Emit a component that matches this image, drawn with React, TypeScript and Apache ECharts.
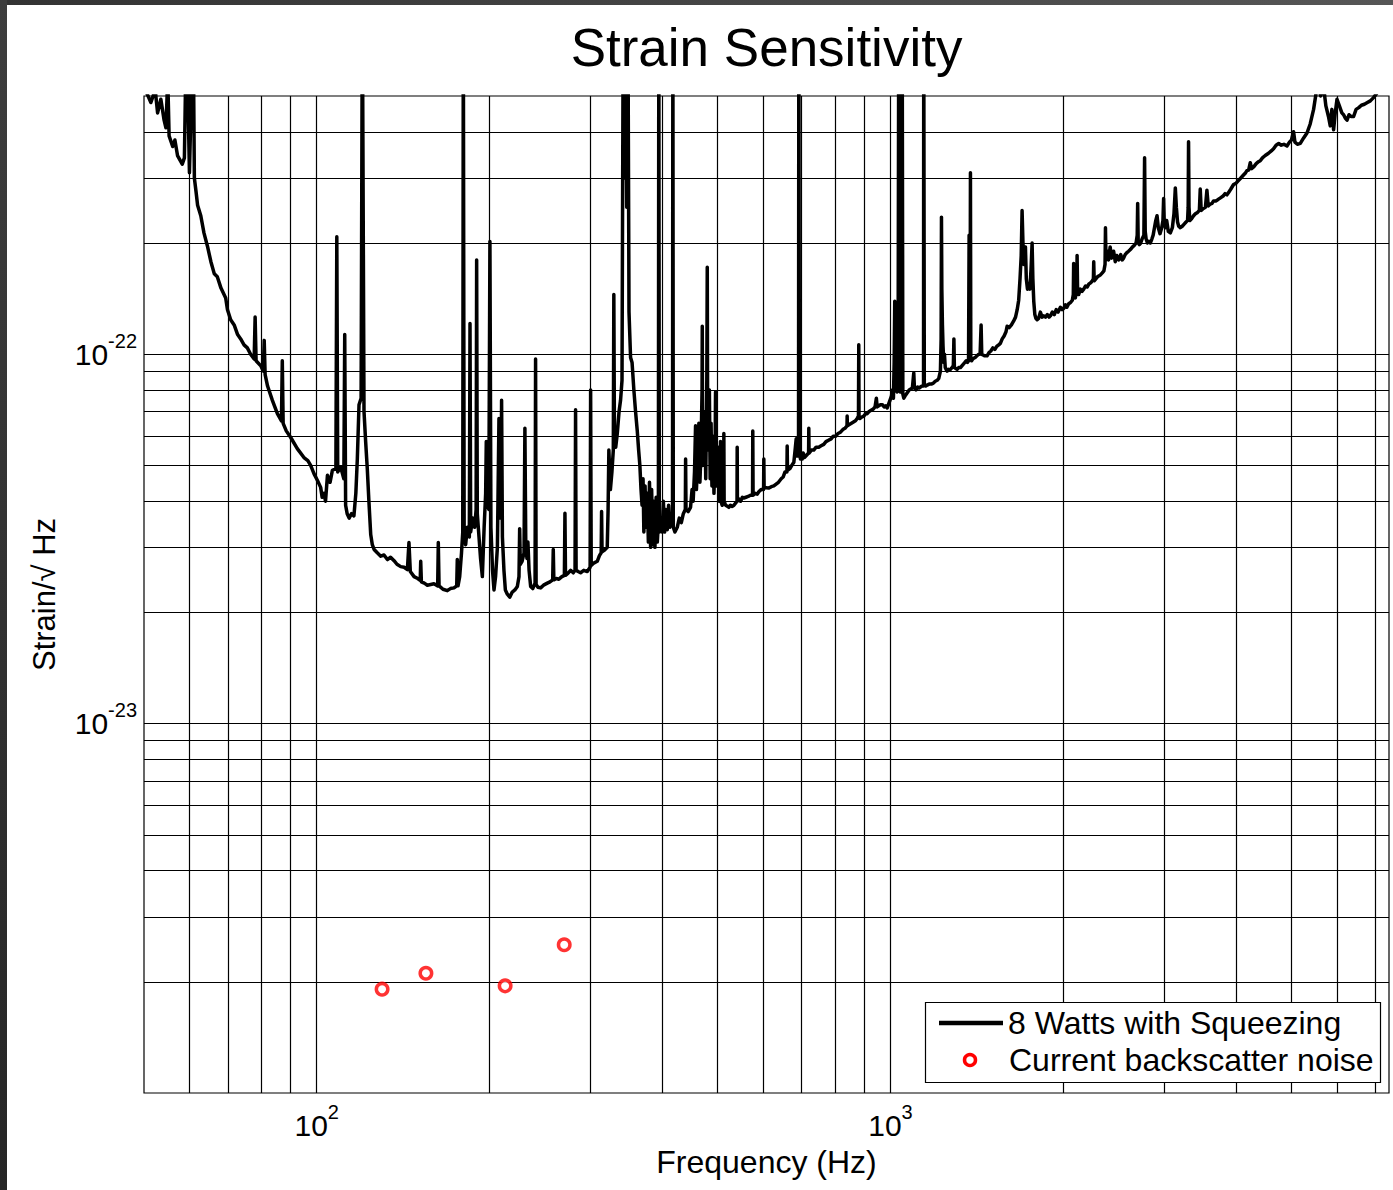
import React, { useEffect, useRef } from 'react';
import * as echarts from 'echarts';

// ---------- data (frequency Hz, strain / sqrt(Hz)) ----------
const strainCurve: [number, number][] = [
  [50.0, 5.3e-22], [51.4, 4.8e-22], [52.3, 5.2e-22], [52.8, 4.5e-22], [53.5, 4.9e-22], [54.2, 4.3e-22],
  [54.6, 4.1e-22], [55.0, 5.6e-22], [55.3, 3.9e-22], [56.1, 3.65e-22], [56.6, 3.8e-22], [57.2, 3.45e-22],
  [58.3, 3.27e-22], [58.8, 3.4e-22], [59.3, 8e-22], [60.0, 3.1e-22], [60.9, 8e-22], [61.2, 3.0e-22],
  [61.6, 2.76e-22], [62.0, 2.53e-22], [62.8, 2.37e-22], [63.6, 2.13e-22], [64.5, 1.96e-22], [65.4, 1.78e-22],
  [66.3, 1.65e-22], [67.1, 1.62e-22], [68.1, 1.51e-22], [69.4, 1.42e-22], [69.9, 1.32e-22], [70.8, 1.24e-22],
  [71.8, 1.2e-22], [72.8, 1.13e-22], [73.7, 1.1e-22], [74.7, 1.06e-22], [75.7, 1.04e-22], [76.7, 1.0e-22],
  [77.8, 9.7e-23], [78.1, 1.26e-22], [78.4, 9.6e-23], [79.9, 9.3e-23], [80.7, 9.0e-23], [81.0, 1.09e-22],
  [81.3, 8.8e-23], [82.1, 8.2e-23], [83.7, 7.5e-23], [85.4, 6.9e-23], [86.8, 6.6e-23], [87.1, 9.6e-23],
  [87.4, 6.5e-23], [88.5, 6.2e-23], [90.1, 5.95e-23], [92.5, 5.55e-23], [95.0, 5.25e-23], [96.5, 5.15e-23],
  [97.6, 5.0e-23], [98.9, 4.75e-23], [100.3, 4.55e-23], [101.6, 4.36e-23], [102.2, 4.1e-23], [103.0, 4.2e-23],
  [103.6, 4.0e-23], [104.4, 4.7e-23], [105.5, 4.5e-23], [106.5, 4.85e-23], [108.0, 4.9e-23], [108.4, 2.08e-22],
  [108.8, 4.8e-23], [110.1, 4.95e-23], [111.5, 4.6e-23], [111.9, 1.13e-22], [112.3, 3.9e-23], [113.0, 3.7e-23],
  [113.9, 3.6e-23], [115.0, 3.7e-23], [116.1, 3.65e-23], [117.0, 4.2e-23], [117.7, 5.2e-23], [118.5, 7.3e-23],
  [119.5, 7.6e-23], [120.1, 9e-22], [120.9, 7.0e-23], [121.7, 5.8e-23], [122.5, 4.9e-23], [123.3, 4.0e-23],
  [124.2, 3.25e-23], [125.0, 3.05e-23], [125.9, 2.96e-23], [127.5, 2.9e-23], [129.3, 2.84e-23], [131.0, 2.86e-23],
  [132.8, 2.78e-23], [134.5, 2.82e-23], [136.4, 2.76e-23], [138.0, 2.7e-23], [140.1, 2.66e-23], [142.0, 2.65e-23],
  [143.9, 2.61e-23], [144.8, 3.09e-23], [145.6, 2.58e-23], [147.8, 2.5e-23], [150.0, 2.47e-23], [151.5, 2.44e-23],
  [151.8, 2.75e-23], [152.2, 2.42e-23], [154.0, 2.4e-23], [155.9, 2.37e-23], [158.0, 2.38e-23], [160.1, 2.39e-23],
  [162.5, 2.36e-23], [162.9, 3.09e-23], [163.4, 2.36e-23], [166.0, 2.31e-23], [168.9, 2.29e-23], [171.0, 2.32e-23],
  [173.5, 2.33e-23], [175.4, 2.36e-23], [175.8, 2.78e-23], [176.3, 2.36e-23], [177.5, 2.5e-23], [178.8, 2.9e-23],
  [179.7, 3.3e-23], [180.1, 9e-22], [180.7, 3.3e-23], [181.8, 3.05e-23], [183.0, 3.4e-23], [184.5, 3.2e-23],
  [185.0, 1.21e-22], [185.5, 3.3e-23], [187.0, 3.6e-23], [188.5, 3.4e-23], [189.6, 3.8e-23], [190.0, 1.8e-22],
  [190.5, 3.7e-23], [191.8, 3.2e-23], [193.0, 2.8e-23], [194.4, 2.5e-23], [195.8, 3.4e-23], [197.0, 4.2e-23],
  [197.5, 5.8e-23], [198.2, 4.0e-23], [199.5, 3.8e-23], [200.4, 2.02e-22], [201.2, 3.4e-23], [202.5, 2.6e-23],
  [203.7, 2.3e-23], [205.0, 2.5e-23], [206.5, 3.0e-23], [207.8, 6.7e-23], [208.6, 3.6e-23], [209.5, 4.0e-23],
  [210.0, 7.5e-23], [210.7, 3.2e-23], [212.0, 2.6e-23], [213.2, 2.3e-23], [214.9, 2.24e-23], [217.0, 2.2e-23],
  [219.2, 2.27e-23], [221.5, 2.3e-23], [223.7, 2.35e-23], [225.2, 2.5e-23], [225.8, 3.37e-23], [226.4, 2.7e-23],
  [228.0, 2.75e-23], [229.8, 2.9e-23], [230.6, 6.3e-23], [231.4, 3.1e-23], [232.5, 2.8e-23], [233.4, 3.1e-23],
  [234.5, 2.6e-23], [236.0, 2.35e-23], [238.0, 2.32e-23], [240.2, 2.4e-23], [240.7, 9.7e-23], [241.2, 2.38e-23],
  [243.0, 2.34e-23], [245.6, 2.33e-23], [248.5, 2.37e-23], [252.3, 2.4e-23], [255.0, 2.42e-23], [257.8, 2.45e-23],
  [258.4, 2.96e-23], [259.0, 2.45e-23], [261.5, 2.47e-23], [264.3, 2.46e-23], [267.5, 2.5e-23], [270.2, 2.52e-23],
  [270.8, 3.71e-23], [271.4, 2.52e-23], [274.0, 2.55e-23], [277.0, 2.6e-23], [280.0, 2.56e-23], [282.0, 2.6e-23],
  [282.6, 7.07e-23], [283.2, 2.6e-23], [285.5, 2.58e-23], [288.3, 2.56e-23], [292.0, 2.6e-23], [296.2, 2.58e-23],
  [299.6, 2.65e-23], [300.2, 8.0e-23], [300.9, 2.68e-23], [304.0, 2.72e-23], [308.3, 2.75e-23], [311.0, 2.85e-23],
  [313.2, 2.9e-23], [313.7, 3.75e-23], [314.3, 2.92e-23], [317.5, 2.95e-23], [320.9, 3.0e-23], [322.0, 3.8e-23],
  [323.0, 5.5e-23], [325.0, 4.3e-23], [327.0, 4.8e-23], [328.8, 5.5e-23], [329.5, 1.45e-22], [330.3, 6.0e-23],
  [332.0, 5.6e-23], [334.1, 6.1e-23], [336.5, 7.0e-23], [338.5, 7.5e-23], [340.5, 8.5e-23], [342.2, 9e-22],
  [343.8, 3.0e-22], [345.4, 9e-22], [347.0, 2.5e-22], [348.6, 9e-22], [350.2, 1.3e-22], [352.4, 9.8e-23],
  [354.5, 9.5e-23], [357.1, 8.0e-23], [359.5, 7.0e-23], [362.0, 6.2e-23], [364.0, 5.5e-23], [365.8, 5.0e-23],
  [367.5, 4.3e-23], [369.0, 3.9e-23], [370.5, 4.6e-23], [371.7, 3.3e-23], [373.5, 4.4e-23], [375.0, 3.4e-23],
  [376.8, 4.2e-23], [378.5, 3.1e-23], [380.2, 4.5e-23], [381.9, 3.0e-23], [383.5, 4.3e-23], [385.2, 3.05e-23],
  [386.9, 4.0e-23], [388.6, 3.0e-23], [390.5, 4.1e-23], [392.3, 3.1e-23], [394.0, 3.5e-23], [394.7, 9e-22],
  [395.5, 3.3e-23], [397.5, 3.6e-23], [400.2, 3.3e-23], [402.0, 4.0e-23], [404.0, 3.3e-23], [406.0, 3.8e-23],
  [408.3, 3.35e-23], [410.5, 3.9e-23], [412.5, 3.4e-23], [415.0, 3.7e-23], [417.0, 3.5e-23], [417.6, 9e-22],
  [418.3, 3.4e-23], [421.0, 3.3e-23], [425.0, 3.4e-23], [428.5, 3.6e-23], [432.0, 3.5e-23], [435.5, 3.7e-23],
  [439.0, 3.8e-23], [439.5, 5.2e-23], [440.2, 3.8e-23], [444.0, 3.75e-23], [448.3, 3.85e-23], [451.0, 4.3e-23],
  [453.0, 4.0e-23], [455.5, 4.8e-23], [457.4, 6.4e-23], [459.0, 4.3e-23], [461.5, 5.2e-23], [463.5, 6.5e-23],
  [465.5, 4.5e-23], [467.5, 5.5e-23], [469.5, 8.0e-23], [469.9, 1.19e-22], [470.6, 5.0e-23], [472.5, 6.0e-23],
  [474.8, 7.0e-23], [476.5, 4.6e-23], [478.5, 8.5e-23], [479.4, 1.72e-22], [480.3, 5.5e-23], [482.0, 6.5e-23],
  [483.5, 8.0e-23], [485.0, 4.6e-23], [486.8, 6.5e-23], [488.5, 4.4e-23], [490.5, 6.0e-23], [492.5, 4.2e-23],
  [494.8, 5.5e-23], [495.6, 7.9e-23], [496.5, 4.4e-23], [498.5, 5.0e-23], [500.5, 5.6e-23], [502.5, 4.0e-23],
  [505.0, 4.5e-23], [505.6, 5.8e-23], [506.5, 4.0e-23], [509.0, 3.9e-23], [512.0, 4.3e-23], [512.4, 6.1e-23],
  [513.0, 4.0e-23], [516.0, 3.9e-23], [519.4, 3.88e-23], [523.0, 3.85e-23], [526.0, 3.9e-23], [530.0, 3.87e-23],
  [533.3, 3.9e-23], [537.0, 3.95e-23], [540.2, 4.0e-23], [540.6, 5.6e-23], [541.1, 4.0e-23], [545.0, 4.05e-23],
  [548.0, 4.0e-23], [552.0, 4.1e-23], [555.1, 4.08e-23], [560.0, 4.1e-23], [565.0, 4.12e-23], [570.0, 4.15e-23],
  [575.0, 4.15e-23], [575.5, 6.2e-23], [576.2, 4.15e-23], [581.0, 4.2e-23], [585.7, 4.18e-23], [590.0, 4.25e-23],
  [595.0, 4.3e-23], [601.0, 4.3e-23], [601.6, 5.2e-23], [602.3, 4.35e-23], [608.0, 4.35e-23], [614.0, 4.34e-23],
  [620.0, 4.38e-23], [626.2, 4.4e-23], [632.0, 4.45e-23], [638.0, 4.5e-23], [645.0, 4.6e-23], [650.0, 4.65e-23],
  [655.0, 4.8e-23], [660.0, 4.8e-23], [660.7, 5.64e-23], [661.5, 4.85e-23], [668.0, 4.9e-23], [673.0, 5.0e-23],
  [678.6, 5.1e-23], [682.0, 5.5e-23], [685.0, 5.9e-23], [688.0, 5.3e-23], [691.5, 6.0e-23], [692.3, 9e-22],
  [693.2, 9e-22], [694.0, 5.4e-23], [697.0, 5.2e-23], [701.8, 5.2e-23], [704.5, 5.4e-23], [708.0, 5.25e-23],
  [712.0, 5.3e-23], [716.0, 5.35e-23], [720.0, 5.4e-23], [720.6, 6.3e-23], [721.3, 5.4e-23], [728.0, 5.5e-23],
  [735.0, 5.5e-23], [742.0, 5.6e-23], [750.0, 5.6e-23], [757.0, 5.65e-23], [765.1, 5.7e-23], [772.0, 5.8e-23],
  [780.0, 5.85e-23], [788.0, 5.9e-23], [795.0, 6.0e-23], [803.0, 6.0e-23], [810.0, 6.1e-23], [818.3, 6.15e-23],
  [826.0, 6.25e-23], [833.0, 6.3e-23], [840.0, 6.4e-23], [840.5, 6.8e-23], [841.2, 6.4e-23], [848.0, 6.45e-23],
  [855.0, 6.5e-23], [862.0, 6.55e-23], [869.0, 6.6e-23], [875.0, 6.7e-23], [879.5, 6.8e-23], [880.6, 1.06e-22],
  [881.5, 6.8e-23], [884.0, 6.7e-23], [890.0, 6.75e-23], [898.5, 6.8e-23], [905.0, 6.9e-23], [910.8, 6.9e-23],
  [918.0, 7.0e-23], [925.0, 7.05e-23], [933.0, 7.1e-23], [940.0, 7.2e-23], [945.0, 7.6e-23], [948.0, 7.2e-23],
  [954.0, 7.25e-23], [960.7, 7.3e-23], [968.0, 7.3e-23], [975.0, 7.2e-23], [982.0, 7.25e-23], [986.7, 7.15e-23],
  [992.0, 7.3e-23], [998.0, 7.5e-23], [1004.0, 7.7e-23], [1008.0, 8.0e-23], [1012.0, 7.6e-23], [1015.0, 9.5e-23],
  [1017.4, 1.39e-22], [1019.5, 8.5e-23], [1023.0, 8.0e-23], [1027.0, 7.9e-23], [1031.0, 8.2e-23], [1033.9, 9e-22],
  [1036.5, 8.0e-23], [1040.0, 7.9e-23], [1044.0, 8.3e-23], [1048.1, 9e-22], [1051.0, 7.8e-23], [1055.0, 7.6e-23],
  [1060.0, 7.7e-23], [1066.0, 7.8e-23], [1072.0, 7.9e-23], [1078.0, 8.0e-23], [1085.0, 8.05e-23], [1092.0, 8.1e-23],
  [1098.1, 8.9e-23], [1101.0, 8.1e-23], [1108.0, 8.0e-23], [1115.0, 8.15e-23], [1122.0, 8.1e-23], [1128.1, 8.15e-23],
  [1135.0, 8.2e-23], [1142.0, 8.2e-23], [1142.9, 9e-22], [1144.0, 9e-22], [1145.5, 8.25e-23], [1152.0, 8.2e-23],
  [1158.8, 8.25e-23], [1168.0, 8.3e-23], [1178.0, 8.3e-23], [1188.0, 8.35e-23], [1197.0, 8.45e-23], [1206.1, 8.5e-23],
  [1214.0, 8.6e-23], [1222.0, 9.0e-23], [1225.5, 1.1e-22], [1227.2, 2.35e-22], [1229.0, 1.5e-22], [1232.0, 1.2e-22],
  [1235.0, 1.05e-22], [1238.5, 9.5e-23], [1242.0, 1.0e-22], [1246.0, 9.2e-23], [1250.0, 9.1e-23], [1255.5, 9.0e-23],
  [1262.0, 9.1e-23], [1268.0, 9.05e-23], [1272.1, 9.1e-23], [1280.0, 9.2e-23], [1287.0, 9.3e-23], [1290.0, 1.1e-22],
  [1292.5, 9.2e-23], [1300.0, 9.15e-23], [1306.8, 9.1e-23], [1315.0, 9.2e-23], [1324.3, 9.2e-23], [1332.0, 9.3e-23],
  [1340.0, 9.4e-23], [1348.0, 9.5e-23], [1355.0, 9.6e-23], [1362.0, 9.5e-23], [1368.0, 9.6e-23], [1371.2, 2.1e-22],
  [1373.5, 1.0e-22], [1376.5, 9.8e-23], [1378.5, 3.1e-22], [1380.5, 9.8e-23], [1385.0, 9.6e-23], [1391.0, 9.7e-23],
  [1396.7, 9.75e-23], [1405.0, 9.8e-23], [1415.0, 9.9e-23], [1425.0, 1.0e-22], [1433.0, 1.0e-22], [1438.8, 1.2e-22],
  [1442.5, 1.0e-22], [1450.0, 9.95e-23], [1460.0, 9.9e-23], [1473.7, 9.9e-23], [1485.0, 1.01e-22], [1496.0, 1.02e-22],
  [1508.0, 1.04e-22], [1520.0, 1.03e-22], [1532.0, 1.05e-22], [1544.0, 1.06e-22], [1554.5, 1.07e-22], [1566.0, 1.1e-22],
  [1578.0, 1.12e-22], [1590.0, 1.15e-22], [1597.0, 1.19e-22], [1610.0, 1.18e-22], [1625.0, 1.2e-22], [1639.8, 1.23e-22],
  [1652.0, 1.26e-22], [1663.0, 1.32e-22], [1673.0, 1.4e-22], [1682.0, 1.6e-22], [1690.0, 1.85e-22], [1696.0, 2.45e-22],
  [1702.0, 2.0e-22], [1708.0, 1.75e-22], [1714.0, 1.9e-22], [1719.0, 1.95e-22], [1725.0, 1.6e-22], [1733.0, 1.5e-22],
  [1741.8, 1.55e-22], [1750.0, 1.5e-22], [1758.0, 1.7e-22], [1765.6, 2.0e-22], [1771.0, 1.6e-22], [1777.4, 1.39e-22],
  [1785.0, 1.28e-22], [1793.0, 1.25e-22], [1801.7, 1.24e-22], [1812.0, 1.25e-22], [1825.0, 1.3e-22], [1838.0, 1.26e-22],
  [1850.0, 1.27e-22], [1863.0, 1.26e-22], [1877.0, 1.28e-22], [1890.0, 1.26e-22], [1900.0, 1.27e-22], [1915.0, 1.3e-22],
  [1930.0, 1.28e-22], [1945.0, 1.32e-22], [1960.0, 1.3e-22], [1978.0, 1.34e-22], [1992.0, 1.32e-22], [2004.0, 1.33e-22],
  [2018.0, 1.36e-22], [2030.0, 1.34e-22], [2045.0, 1.37e-22], [2060.0, 1.38e-22], [2075.0, 1.4e-22], [2083.0, 1.45e-22],
  [2086.0, 1.76e-22], [2090.0, 1.45e-22], [2100.0, 1.42e-22], [2112.0, 1.5e-22], [2115.0, 1.85e-22], [2119.0, 1.5e-22],
  [2128.0, 1.45e-22], [2143.0, 1.5e-22], [2158.0, 1.48e-22], [2172.0, 1.5e-22], [2188.0, 1.53e-22], [2202.0, 1.52e-22],
  [2218.0, 1.55e-22], [2233.0, 1.56e-22], [2248.0, 1.58e-22], [2258.0, 1.6e-22], [2261.0, 1.78e-22], [2265.0, 1.58e-22],
  [2280.0, 1.6e-22], [2295.0, 1.62e-22], [2310.0, 1.63e-22], [2323.0, 1.64e-22], [2340.0, 1.66e-22], [2355.0, 1.68e-22],
  [2366.0, 1.75e-22], [2370.0, 2.2e-22], [2375.0, 1.8e-22], [2390.0, 1.9e-22], [2400.0, 1.8e-22], [2415.0, 1.95e-22],
  [2430.0, 1.82e-22], [2449.0, 1.9e-22], [2465.0, 1.78e-22], [2480.0, 1.85e-22], [2500.0, 1.8e-22], [2520.0, 1.86e-22],
  [2535.0, 1.8e-22], [2549.0, 1.82e-22], [2565.0, 1.86e-22], [2580.0, 1.88e-22], [2600.0, 1.9e-22], [2619.0, 1.92e-22],
  [2640.0, 1.95e-22], [2660.0, 1.97e-22], [2680.0, 2.0e-22], [2692.0, 2.1e-22], [2697.0, 2.56e-22], [2703.0, 2.0e-22],
  [2715.0, 1.98e-22], [2730.0, 2.0e-22], [2745.0, 2.05e-22], [2765.0, 2.1e-22], [2773.0, 3.4e-22], [2780.0, 2.15e-22],
  [2790.0, 2.05e-22], [2805.0, 2.0e-22], [2820.0, 2.02e-22], [2838.0, 2.0e-22], [2855.0, 2.05e-22], [2870.0, 2.1e-22],
  [2885.0, 2.2e-22], [2900.0, 2.3e-22], [2915.0, 2.37e-22], [2930.0, 2.2e-22], [2950.0, 2.12e-22], [2970.0, 2.2e-22],
  [2985.0, 2.3e-22], [2993.0, 2.64e-22], [3000.0, 2.3e-22], [3015.0, 2.2e-22], [3030.0, 2.3e-22], [3050.0, 2.15e-22],
  [3075.0, 2.13e-22], [3100.0, 2.2e-22], [3120.0, 2.4e-22], [3137.0, 2.82e-22], [3150.0, 2.5e-22], [3165.0, 2.28e-22],
  [3180.0, 2.22e-22], [3200.0, 2.2e-22], [3225.0, 2.22e-22], [3250.0, 2.25e-22], [3275.0, 2.28e-22], [3295.0, 2.3e-22],
  [3303.0, 2.5e-22], [3308.0, 3.76e-22], [3314.0, 2.5e-22], [3325.0, 2.3e-22], [3350.0, 2.33e-22], [3375.0, 2.37e-22],
  [3400.0, 2.4e-22], [3430.0, 2.42e-22], [3455.0, 2.45e-22], [3467.0, 2.8e-22], [3480.0, 2.45e-22], [3510.0, 2.48e-22],
  [3540.0, 2.5e-22], [3561.0, 2.78e-22], [3580.0, 2.52e-22], [3610.0, 2.55e-22], [3635.0, 2.56e-22], [3657.0, 2.6e-22],
  [3690.0, 2.6e-22], [3720.0, 2.62e-22], [3760.0, 2.65e-22], [3800.0, 2.68e-22], [3830.0, 2.72e-22], [3859.0, 2.7e-22],
  [3890.0, 2.75e-22], [3920.0, 2.8e-22], [3963.0, 2.88e-22], [4000.0, 2.9e-22], [4040.0, 2.95e-22], [4080.0, 3.0e-22],
  [4120.0, 3.05e-22], [4160.0, 3.1e-22], [4181.0, 3.14e-22], [4210.0, 3.15e-22], [4238.0, 3.3e-22], [4260.0, 3.18e-22],
  [4300.0, 3.22e-22], [4340.0, 3.28e-22], [4380.0, 3.32e-22], [4411.0, 3.34e-22], [4450.0, 3.4e-22], [4500.0, 3.45e-22],
  [4560.0, 3.5e-22], [4610.0, 3.55e-22], [4653.0, 3.6e-22], [4700.0, 3.68e-22], [4750.0, 3.72e-22], [4800.0, 3.68e-22],
  [4850.0, 3.7e-22], [4910.0, 3.66e-22], [4960.0, 3.75e-22], [5000.0, 3.8e-22], [5042.0, 4.0e-22], [5070.0, 3.75e-22],
  [5120.0, 3.7e-22], [5180.0, 3.72e-22], [5250.0, 3.85e-22], [5321.0, 3.97e-22], [5390.0, 4.2e-22], [5464.0, 4.6e-22],
  [5520.0, 5.1e-22], [5560.0, 5.5e-22], [5620.0, 5.0e-22], [5687.0, 5.3e-22], [5740.0, 4.7e-22], [5800.0, 4.4e-22],
  [5842.0, 4.15e-22], [5880.0, 4.6e-22], [5921.0, 4.05e-22], [5960.0, 4.5e-22], [6002.0, 4.9e-22], [6060.0, 4.7e-22],
  [6120.0, 4.5e-22], [6163.0, 4.45e-22], [6210.0, 4.35e-22], [6249.0, 4.3e-22], [6300.0, 4.45e-22], [6350.0, 4.4e-22],
  [6416.0, 4.4e-22], [6480.0, 4.6e-22], [6550.0, 4.65e-22], [6620.0, 4.72e-22], [6700.0, 4.75e-22], [6780.0, 4.8e-22],
  [6861.0, 4.85e-22], [6950.0, 4.95e-22], [7050.0, 5.1e-22], [7200.0, 5.2e-22], [7395.0, 5.4e-22],
];

const backscatterFreq = [130, 155, 213, 270];
const backscatterStrain = [1.91e-24, 2.11e-24, 1.95e-24, 2.52e-24];

const seriesNames = ['8 Watts with Squeezing', 'Current backscatter noise'];

const xRange = [50, 7395];
const yRange = [1e-24, 5e-22];
const xGridValues = [60, 70, 80, 90, 100, 200, 300, 400, 500, 600, 700, 800, 900, 1000, 2000, 3000, 4000, 5000, 6000, 7000];
const yGridValues = [
  2e-24, 3e-24, 4e-24, 5e-24, 6e-24, 7e-24, 8e-24, 9e-24, 1e-23,
  2e-23, 3e-23, 4e-23, 5e-23, 6e-23, 7e-23, 8e-23, 9e-23, 1e-22,
  2e-22, 3e-22, 4e-22,
];

const FONT = '"Liberation Sans", Arial, Helvetica, sans-serif';

function powLabel(v: number): string {
  const e = Math.log10(v);
  const r = Math.round(e);
  if (Math.abs(e - r) > 1e-6) return '';
  return `{b|10}{s|${r}}`;
}

const labelRich = {
  b: { fontSize: 30, lineHeight: 47, verticalAlign: 'middle', color: '#000', fontFamily: FONT },
  s: { fontSize: 20, lineHeight: 20, verticalAlign: 'top', color: '#000', fontFamily: FONT },
};

export default function App() {
  const ref = useRef<HTMLDivElement>(null);

  useEffect(() => {
    if (!ref.current) return;
    const chart = echarts.init(ref.current, null, { renderer: 'svg' });

    const gridLineStyle = { color: '#000', width: 1.2, type: 'solid', opacity: 1 };

    const option: any = {
      animation: false,
      backgroundColor: '#fff',
      textStyle: { fontFamily: FONT },
      title: {
        text: 'Strain Sensitivity',
        left: 766.5,
        top: 21,
        padding: 0,
        textAlign: 'center',
        textVerticalAlign: 'top',
        textStyle: { fontSize: 53, fontWeight: 'normal', color: '#000', fontFamily: FONT },
      },
      grid: {
        left: 144,
        right: 4,
        top: 96,
        bottom: 97,
        show: true,
        borderColor: '#000',
        borderWidth: 1.2,
        backgroundColor: 'transparent',
        containLabel: false,
        outerBoundsMode: 'none',
      },
      xAxis: {
        type: 'log',
        logBase: 10,
        min: xRange[0],
        max: xRange[1],
        name: 'Frequency (Hz)',
        nameLocation: 'middle',
        nameGap: 53,
        nameMoveOverlap: false,
        nameTextStyle: { fontSize: 32, color: '#000', fontFamily: FONT },
        axisLine: { show: false },
        axisTick: { show: false },
        splitLine: { show: false },
        minorTick: { show: false },
        minorSplitLine: { show: false },
        axisLabel: {
          formatter: powLabel,
          rich: labelRich,
          margin: 9,
          color: '#000',
          hideOverlap: false,
          showMinLabel: false,
          showMaxLabel: false,
        },
      },
      yAxis: {
        type: 'log',
        logBase: 10,
        min: yRange[0],
        max: yRange[1],
        name: 'Strain/\u221A Hz',
        nameLocation: 'middle',
        nameGap: 84,
        nameMoveOverlap: false,
        nameTextStyle: { fontSize: 31, color: '#000', fontFamily: FONT },
        axisLine: { show: false },
        axisTick: { show: false },
        splitLine: { show: false },
        minorTick: { show: false },
        minorSplitLine: { show: false },
        axisLabel: {
          formatter: powLabel,
          rich: labelRich,
          margin: 7,
          color: '#000',
          hideOverlap: false,
          showMaxLabel: false,
        },
      },
      series: [
        {
          name: seriesNames[0],
          type: 'line',
          data: strainCurve,
          symbol: 'none',
          showSymbol: false,
          clip: true,
          z: 3,
          lineStyle: { color: '#000', width: 3.5, join: 'round' },
          itemStyle: { color: '#000' },
          emphasis: { disabled: true },
          silent: true,
        },
        {
          name: seriesNames[1],
          type: 'scatter',
          data: backscatterFreq.map((f, i) => [f, backscatterStrain[i]]),
          symbol: 'circle',
          symbolSize: 11.5,
          z: 4,
          itemStyle: { color: '#ffffff', borderColor: '#ff0000', borderWidth: 3.5 },
          emphasis: { disabled: true },
          silent: true,
          markLine: {
            silent: true,
            z: 1,
            precision: -1,
            symbol: ['none', 'none'],
            label: { show: false },
            emphasis: { disabled: true },
            lineStyle: gridLineStyle,
            data: [
              ...xGridValues.map((v) => ({ xAxis: v })),
              ...yGridValues.map((v) => ({ yAxis: v })),
            ],
          },
        },
      ],
      graphic: [
        {
          type: 'rect',
          z: 200,
          silent: true,
          shape: { x: 0, y: 0, width: 1393, height: 5 },
          style: {
            fill: new echarts.graphic.LinearGradient(0, 0, 1, 0, [
              { offset: 0, color: '#333333' },
              { offset: 1, color: '#565656' },
            ]),
          },
        },
        {
          type: 'rect',
          z: 200,
          silent: true,
          shape: { x: 0, y: 0, width: 7, height: 1190 },
          style: {
            fill: new echarts.graphic.LinearGradient(0, 0, 0, 1, [
              { offset: 0, color: '#3d3d3d' },
              { offset: 1, color: '#262626' },
            ]),
          },
        },
        {
          type: 'rect',
          z: 100,
          silent: true,
          shape: { x: 925.5, y: 1002.5, width: 455, height: 80 },
          style: { fill: '#fff', stroke: '#000', lineWidth: 1.2 },
        },
        {
          type: 'line',
          z: 101,
          silent: true,
          shape: { x1: 939, y1: 1023, x2: 1003, y2: 1023 },
          style: { stroke: '#000', lineWidth: 4.5 },
        },
        {
          type: 'circle',
          z: 101,
          silent: true,
          shape: { cx: 970, cy: 1060, r: 5.5 },
          style: { fill: '#fff', stroke: '#ff0000', lineWidth: 3.5 },
        },
        {
          type: 'text',
          z: 101,
          silent: true,
          x: 1008,
          y: 1023,
          style: {
            text: seriesNames[0],
            fontSize: 32,
            fontFamily: FONT,
            fill: '#000',
            align: 'left',
            verticalAlign: 'middle',
          },
        },
        {
          type: 'text',
          z: 101,
          silent: true,
          x: 1009,
          y: 1060,
          style: {
            text: seriesNames[1],
            fontSize: 32,
            fontFamily: FONT,
            fill: '#000',
            align: 'left',
            verticalAlign: 'middle',
          },
        },
      ],
    };

    chart.setOption(option);
    return () => chart.dispose();
  }, []);

  return (
    <div
      ref={ref}
      style={{ position: 'absolute', left: 0, top: 0, width: 1393, height: 1190, background: '#fff' }}
    />
  );
}
